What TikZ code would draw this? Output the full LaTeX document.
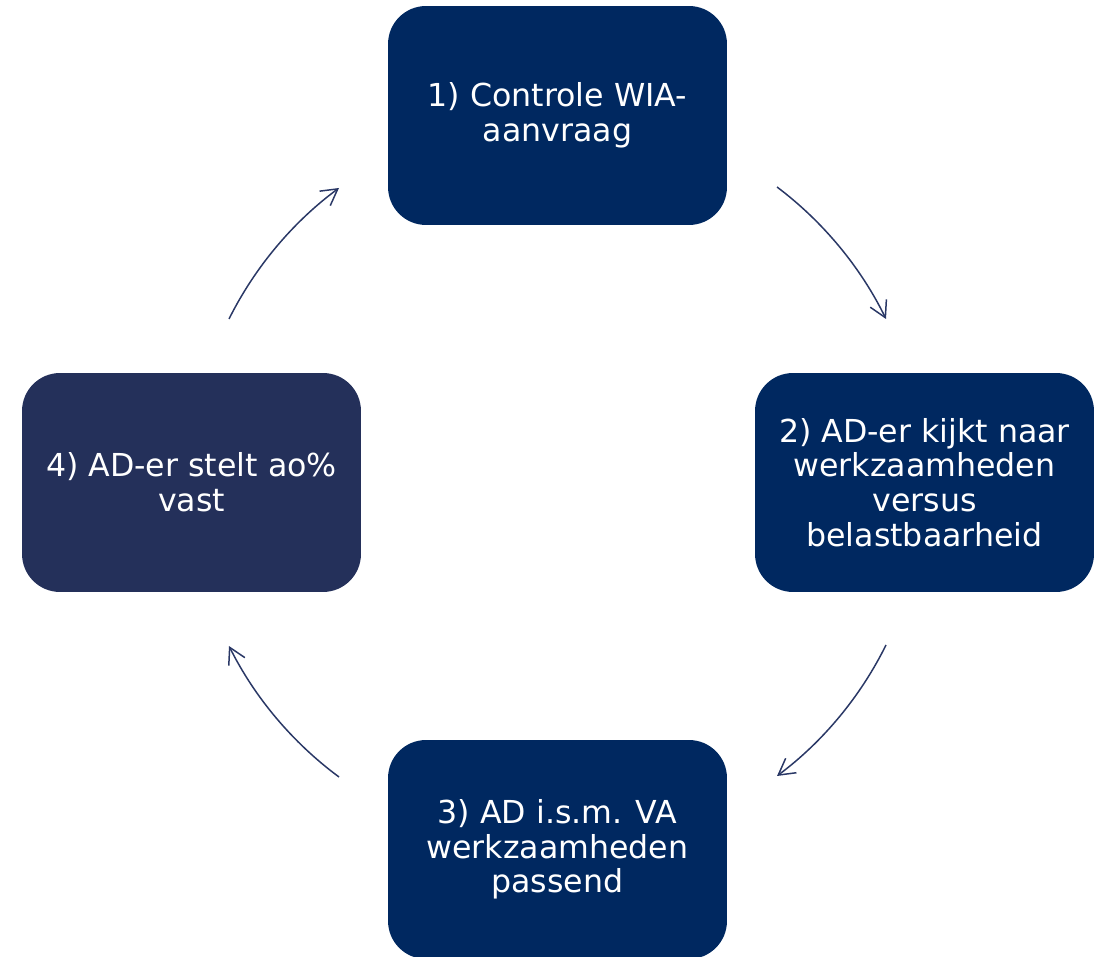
\documentclass[tikz,border=0pt]{standalone}
\usepackage{fontspec}
\setmainfont{DejaVu Sans}
\usetikzlibrary{arrows.meta}

\definecolor{stapblauw}{RGB}{0,40,96}
\definecolor{stapgrijs}{RGB}{36,48,90}
\definecolor{pijlblauw}{RGB}{42,56,102}

\begin{document}
\begin{tikzpicture}[x=0.02cm,y=0.02cm,
	stap/.style={fill=stapblauw, text=white, rounded corners=0.76cm, minimum width=6.78cm, minimum height=4.38cm, align=center, font=\fontsize{18}{19.7}\selectfont},
	pijl/.style={pijlblauw, line width=0.85pt, -{Straight Barb[length=3.2mm,width=3.6mm]}}]

	\useasboundingbox (0,0) rectangle (1094,956);
	\clip (0,0) rectangle (1094,956);

	%the four steps
	\node[stap] (controle) at (557.5,840.5) {1) Controle WIA-\\aanvraag};
	\node[stap] (kijkt) at (924.5,473.5) {2) AD-er kijkt naar\\werkzaamheden\\versus\\belastbaarheid};
	\node[stap] (passend) at (557.5,106.5) {3) AD i.s.m. VA\\werkzaamheden\\passend};
	\node[stap, fill=stapgrijs] (vast) at (191.5,473.5) {4) AD-er stelt ao\%\\vast};

	%ends of the arrows
	\coordinate (p1a) at (777,769);
	\coordinate (p1b) at (886,637);
	\coordinate (p2a) at (886,311);
	\coordinate (p2b) at (777,180);
	\coordinate (p3a) at (339,179);
	\coordinate (p3b) at (229,310);
	\coordinate (p4a) at (229,637);
	\coordinate (p4b) at (339,768);

	%the cycle
	\draw[pijl] (p1a) to[bend left=13.5, looseness=0.86] (p1b);
	\draw[pijl] (p2a) to[bend left=13.5, looseness=0.86] (p2b);
	\draw[pijl] (p3a) to[bend left=13.5, looseness=0.86] (p3b);
	\draw[pijl] (p4a) to[bend left=13.5, looseness=0.86] (p4b);

\end{tikzpicture}
\end{document}
